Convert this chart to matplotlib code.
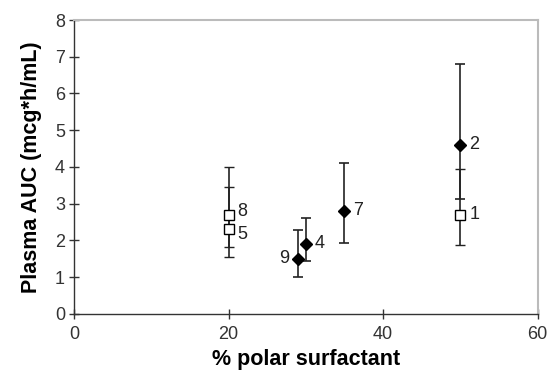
import matplotlib.pyplot as plt

plt.rcParams['font.family'] = ['Liberation Sans', 'DejaVu Sans']

# filled diamonds
fx = [50, 30, 35, 29]
fy = [4.6, 1.9, 2.8, 1.5]
f_lo = [3.13, 1.43, 1.93, 0.99]
f_hi = [6.8, 2.6, 4.1, 2.29]
f_lab = ['2', '4', '7', '9']

# open squares
ox = [50, 20, 20]
oy = [2.7, 2.3, 2.7]
o_lo = [1.87, 1.81, 1.54]
o_hi = [3.93, 3.46, 4.0]
o_lab = ['1', '5', '8']

fig = plt.figure(figsize=(5.48, 3.78), dpi=100)
ax = fig.add_axes([0.135, 0.17, 0.846, 0.777])

ferr = [[y - l for y, l in zip(fy, f_lo)], [h - y for y, h in zip(fy, f_hi)]]
oerr = [[y - l for y, l in zip(oy, o_lo)], [h - y for y, h in zip(oy, o_hi)]]

ax.errorbar(fx, fy, yerr=ferr, fmt='D', color='black', ms=6, ecolor='#222222',
            elinewidth=1.2, capsize=3.5, capthick=1.2, zorder=3)
ax.errorbar(ox, oy, yerr=oerr, fmt='s', mfc='white', mec='black', mew=1, ms=7,
            ecolor='#222222', elinewidth=1.2, capsize=3.5, capthick=1.2, zorder=3)

# label offsets in points (5 and 8 nudged apart)
offs = {'2': (6.5, 0), '4': (6.5, 0), '7': (6.5, 0), '9': (-6.5, 0),
        '1': (6.5, 0), '5': (6.5, -3.5), '8': (6.5, 2)}

for x, y, t in zip(fx + ox, fy + oy, f_lab + o_lab):
    dx, dy = offs[t]
    ax.annotate(t, (x, y), xytext=(dx, dy), textcoords='offset points',
                ha='left' if dx > 0 else 'right', va='center', fontsize=13,
                color='#222222')

ax.set_xlim(0, 60)
ax.set_ylim(0, 8)
ax.set_xticks([0, 20, 40, 60])
ax.set_yticks(range(0, 9))
ax.tick_params(direction='inout', length=7, width=1, labelsize=13, colors='#333333')
ax.tick_params(axis='x', pad=5)
ax.tick_params(axis='y', pad=3)
for s in ['left', 'bottom']:
    ax.spines[s].set_color('#333333')
    ax.spines[s].set_linewidth(1)
for s in ['top', 'right']:
    ax.spines[s].set_color('#bbbbbb')
    ax.spines[s].set_linewidth(1.5)

ax.set_xlabel('% polar surfactant', fontsize=15.5, fontweight='bold', labelpad=5)
ax.set_ylabel('Plasma AUC (mcg*h/mL)', fontsize=15.5, fontweight='bold', labelpad=9)

fig.savefig('out.png')
